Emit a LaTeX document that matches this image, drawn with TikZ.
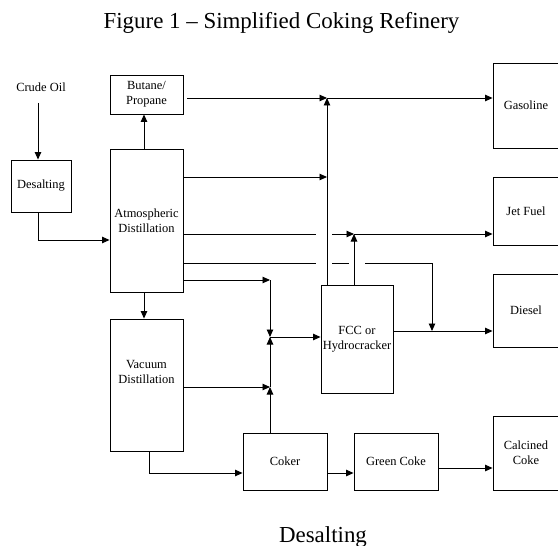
\documentclass[tikz,border=0pt]{standalone}
\usepackage{fontspec}
\setmainfont{Liberation Serif}
\usetikzlibrary{arrows.meta}
\begin{document}
\begin{tikzpicture}[x=1bp,y=-1bp,
  line width=0.9bp,
  txt/.style={font=\fontsize{12.5}{15}\selectfont, align=center, inner sep=0pt},
  box/.style={draw, txt},
  arr/.style={-{Triangle[length=7.5bp,width=6.5bp]}},
  big/.style={font=\fontsize{23}{27}\selectfont, inner sep=0pt, anchor=base}]
\clip (0,0) rectangle (558,546);
% titles
\node[big] (title) at (281.5,29) {Figure 1 – Simplified Coking Refinery};
\node[big] (foot) at (323,542) {Desalting};
% boxes
\node[txt] (crude) at (41,87) {Crude Oil};
\node[box, minimum width=60bp, minimum height=52bp] (desal) at (41,186) {Desalting};
\node[box, minimum width=73bp, minimum height=39bp] (butane) at (146.5,94.5) {Butane/\\Propane};
\node[box, minimum width=73bp, minimum height=143bp] (atm) at (146.5,220.5) {Atmospheric\\Distillation};
\node[box, minimum width=73bp, minimum height=132bp,
  label={[txt, yshift=13bp]center:Vacuum\\Distillation}] (vac) at (146.5,385) {};
\node[box, minimum width=72bp, minimum height=108bp] (fcc) at (357,339) {FCC or\\Hydrocracker};
\node[box, minimum width=84bp, minimum height=57bp] (coker) at (285,461.5) {Coker};
\node[box, minimum width=84bp, minimum height=57bp] (green) at (396,461.5) {Green Coke};
\node[box, minimum width=66bp, minimum height=74bp] (calc) at (526,453) {Calcined\\Coke};
\node[box, minimum width=66bp, minimum height=85bp] (gas) at (526,105.5) {Gasoline};
\node[box, minimum width=66bp, minimum height=68bp] (jet) at (526,211) {Jet Fuel};
\node[box, minimum width=66bp, minimum height=73bp] (diesel) at (526,310.5) {Diesel};
% junction coordinates
\coordinate (c0) at (38,103);
\coordinate (jg) at (327,98);
\coordinate (jj) at (354,234);
\coordinate (jd) at (432,331);
\coordinate (ja) at (270,280);
\coordinate (jf) at (270,337);
\coordinate (jv) at (270,387);
% connectors
\draw[arr] (c0) -- (c0 |- desal.north);
\draw[arr] (desal.south -| c0) |- (atm.west |- 0,240);
\draw[arr] (atm.north -| 144,0) -- (butane.south -| 144,0);
\draw[arr] (atm.south -| 144,0) -- (vac.north -| 144,0);
\draw[arr] (187,98) -- (jg);
\draw[arr] (fcc.north -| jg) -- (jg);
\draw[arr] (jg) -- (gas.west |- jg);
\draw[arr] (atm.east |- 0,177) -- (jg |- 0,177);
\draw (atm.east |- jj) -- (316,234);
\draw[arr] (332,234) -- (jj);
\draw[arr] (fcc.north -| jj) -- (jj);
\draw[arr] (jj) -- (jet.west |- jj);
\draw (atm.east |- 0,263) -- (316,263);
\draw (332,263) -- (349,263);
\draw[arr] (365,263) -| (jd);
\draw[arr] (atm.east |- ja) -- (ja);
\draw[arr] (ja) -- (jf);
\draw[arr] (jf) -- (fcc.west |- jf);
\draw[arr] (fcc.east |- jd) -- (diesel.west |- jd);
\draw[arr] (vac.east |- jv) -- (jv);
\draw[arr] (coker.north -| jv) -- (jv);
\draw[arr] (jv) -- (jf);
\draw[arr] (vac.south -| 149,0) |- (coker.west |- 0,473);
\draw[arr] (coker.east |- 0,473) -- (green.west |- 0,473);
\draw[arr] (green.east |- 0,468) -- (calc.west |- 0,468);
\end{tikzpicture}
\end{document}
